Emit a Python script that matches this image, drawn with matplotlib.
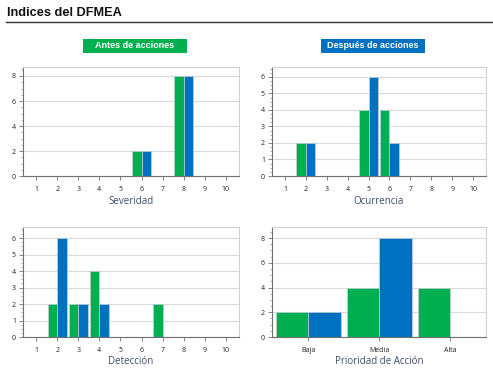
import matplotlib
matplotlib.use("Agg")
import matplotlib.pyplot as plt
from matplotlib.patches import Rectangle
from matplotlib.ticker import MultipleLocator
import numpy as np

plt.rcParams['font.family'] = ['Open Sans', 'DejaVu Sans']

scale = list(range(1, 11))
sev_antes = [0, 0, 0, 0, 0, 2, 0, 8, 0, 0]
sev_despues = [0, 0, 0, 0, 0, 2, 0, 8, 0, 0]
occ_antes = [0, 2, 0, 0, 4, 4, 0, 0, 0, 0]
occ_despues = [0, 2, 0, 0, 6, 2, 0, 0, 0, 0]
det_antes = [0, 2, 2, 4, 0, 0, 2, 0, 0, 0]
det_despues = [0, 6, 2, 2, 0, 0, 0, 0, 0, 0]
ap_cats = ["Baja", "Media", "Alta"]
ap_antes = [2, 4, 4]
ap_despues = [2, 8, 0]

GREEN = "#00B050"
BLUE = "#0070C0"
LABEL_COLOR = "#3B4E6E"

W, H = 493, 371
fig = plt.figure(figsize=(W / 100, H / 100), dpi=100)

def fx(px):
    return px / W

def fy(py):
    return 1 - py / H

def make_axes(l, t, r, b):
    return fig.add_axes([fx(l), fy(b), fx(r) - fx(l), fy(t) - fy(b)])

def style(ax, ymax, major, minor, xlabel):
    ax.set_ylim(0, ymax)
    ax.yaxis.set_major_locator(MultipleLocator(major))
    ax.yaxis.set_minor_locator(MultipleLocator(minor))
    ax.grid(axis='y', which='major', color='#d9d9d9', linewidth=0.8)
    ax.set_axisbelow(True)
    for s in ['top', 'right']:
        ax.spines[s].set_color('#d0d0d0')
        ax.spines[s].set_linewidth(0.8)
    for s in ['left', 'bottom']:
        ax.spines[s].set_color('#707070')
        ax.spines[s].set_linewidth(0.8)
    ax.tick_params(axis='both', which='major', labelsize=5, length=3, width=0.6,
                   color='#707070', labelcolor='#222222', pad=2)
    ax.tick_params(axis='y', which='minor', length=1.5, width=0.5, color='#909090')
    ax.tick_params(axis='x', which='major', pad=4)
    ax.set_xlabel(xlabel, fontsize=7, color=LABEL_COLOR, labelpad=2)

bw = 0.45
edge = dict(edgecolor='#c0d0d8', linewidth=0.5)

def scale_chart(ax, antes, despues, ymax, major, minor, xlabel):
    x = np.array(scale)
    ax.bar(x - bw / 2, antes, width=bw, color=GREEN, **edge)
    ax.bar(x + bw / 2, despues, width=bw, color=BLUE, **edge)
    ax.set_xlim(0.38, 10.62)
    ax.set_xticks(scale)
    style(ax, ymax, major, minor, xlabel)

ax1 = make_axes(23, 67, 239, 176)
scale_chart(ax1, sev_antes, sev_despues, 8.72, 2, 0.5, "Severidad")

ax2 = make_axes(272, 67, 486, 176)
scale_chart(ax2, occ_antes, occ_despues, 6.6, 1, 0.25, "Ocurrencia")

ax3 = make_axes(23, 227, 239, 337)
scale_chart(ax3, det_antes, det_despues, 6.67, 1, 0.25, "Detección")

ax4 = make_axes(272, 227, 486, 337)
xc = np.arange(len(ap_cats))
ax4.bar(xc - 0.46 / 2, ap_antes, width=0.46, color=GREEN, **edge)
ax4.bar(xc + 0.46 / 2, ap_despues, width=0.46, color=BLUE, **edge)
ax4.set_xlim(-0.51, 2.5)
ax4.set_xticks(xc)
ax4.set_xticklabels(ap_cats)
style(ax4, 8.9, 2, 0.5, "Prioridad de Acción")

# Title and rule
fig.text(fx(7), fy(13), "Indices del DFMEA", fontsize=9.2, fontweight='bold',
         color='#111111', va='center', ha='left', family=['Liberation Sans', 'DejaVu Sans'])
fig.add_artist(plt.Line2D([fx(6), fx(493)], [fy(22), fy(22)], color='#333333', linewidth=1.0))

# Label boxes
for (l, r, txt, col) in [(83, 187, "Antes de acciones", GREEN), (321, 425, "Después de acciones", BLUE)]:
    fig.add_artist(Rectangle((fx(l), fy(53)), fx(r) - fx(l), fy(39) - fy(53),
                             facecolor=col, edgecolor='none', transform=fig.transFigure))
    fig.text(fx((l + r) / 2), fy(46), txt, fontsize=6.5, fontweight='bold', color='white',
             ha='center', va='center', family=['Liberation Sans', 'DejaVu Sans'])

fig.savefig("out.png", dpi=100)
